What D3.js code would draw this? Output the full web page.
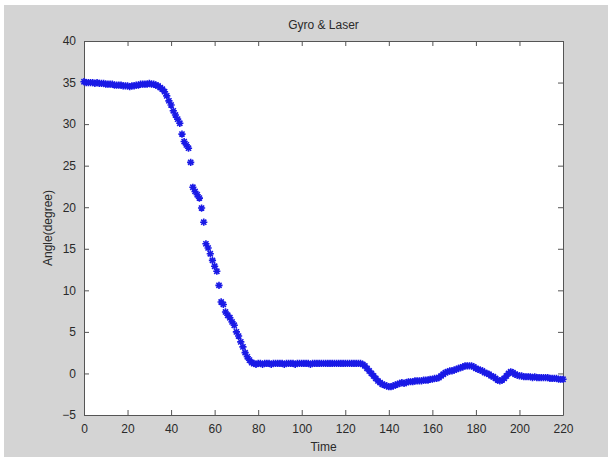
<!DOCTYPE html>
<html>
<head>
<meta charset="utf-8">
<script src="https://cdn.jsdelivr.net/npm/d3@7"></script>
<style>
  body { margin: 0; background: #fff; }
  svg { display: block; }
  text { font-family: "Liberation Sans", Arial, sans-serif; fill: #2a2a2a; }
</style>
</head>
<body>
<div id="chart"></div>
<script>
// Gyro & Laser - angle over time, one sample per time unit
var chartTitle = "Gyro & Laser";
var xLabel = "Time";
var yLabel = "Angle(degree)";
var xTicks = [0, 20, 40, 60, 80, 100, 120, 140, 160, 180, 200, 220];
var yTicks = [-5, 0, 5, 10, 15, 20, 25, 30, 35, 40];

var angle = [
  35.1, 35.0, 35.0, 35.0, 35.0, 34.9, 35.0, 34.9, 34.9, 34.9, 34.8,
  34.8, 34.8, 34.8, 34.7, 34.7, 34.7, 34.7, 34.6, 34.6, 34.6,
  34.5, 34.6, 34.6, 34.7, 34.7, 34.8, 34.8, 34.8, 34.8, 34.9,
  34.8, 34.8, 34.7, 34.6, 34.4, 34.2, 33.9, 33.4, 32.8, 32.3,
  31.6, 31.1, 30.6, 30.1, 28.8, 27.9, 27.5, 27.1, 25.4, 22.4,
  21.9, 21.5, 21.1, 19.9, 18.2, 15.6, 15.1, 14.4, 13.6, 12.9,
  12.3, 10.6, 8.6, 8.3, 7.4, 7.0, 6.7, 6.2, 5.8, 5.0,
  4.5, 3.8, 3.2, 2.5, 2.0, 1.6, 1.3, 1.2, 1.1, 1.2,
  1.2, 1.1, 1.2, 1.2, 1.2, 1.1, 1.2, 1.2, 1.2, 1.2,
  1.2, 1.1, 1.2, 1.2, 1.2, 1.2, 1.1, 1.2, 1.2, 1.2,
  1.2, 1.2, 1.2, 1.1, 1.2, 1.2, 1.2, 1.2, 1.2, 1.2,
  1.2, 1.2, 1.2, 1.2, 1.2, 1.2, 1.2, 1.2, 1.2, 1.2,
  1.2, 1.2, 1.2, 1.2, 1.2, 1.2, 1.2, 1.1, 0.9, 0.6,
  0.3, 0.0, -0.3, -0.6, -0.9, -1.1, -1.3, -1.4, -1.5, -1.6,
  -1.6, -1.5, -1.4, -1.3, -1.2, -1.1, -1.2, -1.1, -1.0, -1.0,
  -1.0, -0.9, -0.9, -0.9, -0.9, -0.8, -0.8, -0.8, -0.7, -0.7,
  -0.6, -0.6, -0.5, -0.3, -0.1, 0.1, 0.2, 0.3, 0.3, 0.4,
  0.5, 0.6, 0.7, 0.8, 0.9, 0.9, 0.9, 0.9, 0.8, 0.6,
  0.5, 0.4, 0.3, 0.1, 0.0, -0.1, -0.3, -0.4, -0.6, -0.8,
  -0.9, -0.8, -0.6, -0.3, 0.0, 0.2, 0.1, -0.1, -0.2, -0.3,
  -0.3, -0.4, -0.4, -0.4, -0.4, -0.5, -0.4, -0.5, -0.5, -0.5,
  -0.5, -0.5, -0.5, -0.6, -0.6, -0.6, -0.6, -0.7, -0.7, -0.7
];
var time = d3.range(angle.length);

var W = 613, H = 465;
var plot = { left: 84, right: 563, top: 41, bottom: 415 };

var svg = d3.select("#chart").append("svg")
  .attr("width", W)
  .attr("height", H);

// figure background (grey with thin white frame)
svg.append("rect")
  .attr("x", 4).attr("y", 5)
  .attr("width", W - 9).attr("height", H - 13)
  .attr("fill", "#d4d4d4");

var x = d3.scaleLinear().domain([0, 220]).range([plot.left, plot.right]);
var y = d3.scaleLinear().domain([-5, 40]).range([plot.bottom, plot.top]);

svg.append("rect")
  .attr("x", plot.left).attr("y", plot.top)
  .attr("width", plot.right - plot.left)
  .attr("height", plot.bottom - plot.top)
  .attr("fill", "#fff");

// axes, ticks inward like matlab
function styleAxis(g) {
  g.selectAll(".domain").attr("stroke", "#555");
  g.selectAll(".tick line").attr("stroke", "#555");
  g.selectAll("text")
    .style("font-family", "'Liberation Sans', Arial, sans-serif")
    .style("font-size", "12px")
    .attr("fill", "#2a2a2a");
}

svg.append("g")
  .attr("transform", "translate(0," + plot.bottom + ")")
  .call(d3.axisBottom(x).tickValues(xTicks).tickSizeInner(-5).tickSizeOuter(0).tickPadding(9))
  .call(styleAxis);

svg.append("g")
  .attr("transform", "translate(0," + plot.top + ")")
  .call(d3.axisTop(x).tickValues(xTicks).tickSizeInner(-5).tickSizeOuter(0).tickFormat(""))
  .call(styleAxis);

svg.append("g")
  .attr("transform", "translate(" + plot.left + ",0)")
  .call(d3.axisLeft(y).tickValues(yTicks).tickSizeInner(-5).tickSizeOuter(0).tickPadding(8))
  .call(styleAxis);

svg.append("g")
  .attr("transform", "translate(" + plot.right + ",0)")
  .call(d3.axisRight(y).tickValues(yTicks).tickSizeInner(-5).tickSizeOuter(0).tickFormat(""))
  .call(styleAxis);

// '*' markers
var s = 3.6;
var star = "M" + (-s) + ",0L" + s + ",0" +
  "M0," + (-s) + "L0," + s +
  "M" + (-s * 0.72) + "," + (-s * 0.72) + "L" + (s * 0.72) + "," + (s * 0.72) +
  "M" + (-s * 0.72) + "," + (s * 0.72) + "L" + (s * 0.72) + "," + (-s * 0.72);

svg.append("g")
  .selectAll("path")
  .data(time)
  .enter().append("path")
  .attr("d", star)
  .attr("transform", function(d, i) { return "translate(" + x(d) + "," + y(angle[i]) + ")"; })
  .attr("stroke", "#1a1ae6")
  .attr("stroke-width", 1.6)
  .attr("fill", "none");

// labels
svg.append("text")
  .attr("x", (plot.left + plot.right) / 2)
  .attr("y", 29)
  .attr("text-anchor", "middle")
  .style("font-size", "12px")
  .text(chartTitle);

svg.append("text")
  .attr("x", (plot.left + plot.right) / 2)
  .attr("y", 451)
  .attr("text-anchor", "middle")
  .style("font-size", "12px")
  .text(xLabel);

svg.append("text")
  .attr("transform", "translate(52," + ((plot.top + plot.bottom) / 2) + ") rotate(-90)")
  .attr("text-anchor", "middle")
  .style("font-size", "12px")
  .text(yLabel);
</script>
</body>
</html>
